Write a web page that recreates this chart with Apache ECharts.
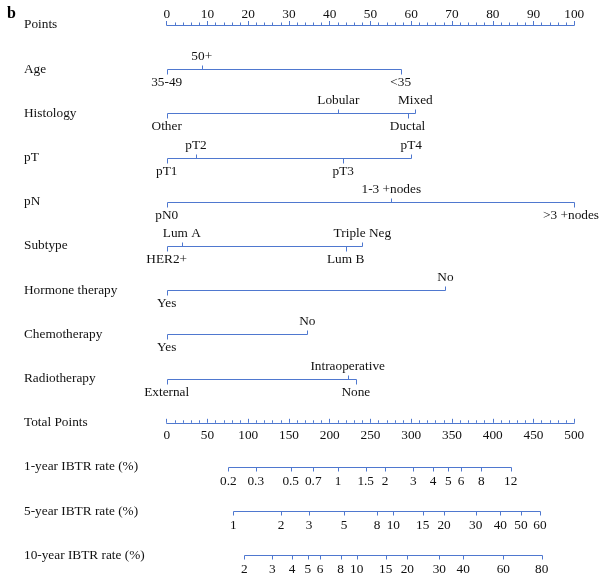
<!DOCTYPE html>
<html>
<head>
<meta charset="utf-8">
<script src="https://cdn.jsdelivr.net/npm/echarts@6/dist/echarts.min.js"></script>
<style>
html,body{margin:0;padding:0;background:#fff;}
#chart{width:600px;height:573px;}
</style>
</head>
<body>
<div id="chart"></div>
<script>
// ---- data ----
const rowNames = ['Points','Age','Histology','pT','pN','Subtype','Hormone therapy','Chemotherapy','Radiotherapy','Total Points','1-year IBTR rate (%)','5-year IBTR rate (%)','10-year IBTR rate (%)'];

const pointsMax = 100, pointsStep = 10;
const totalMax = 500, totalStep = 50;

const ageLevels = ['35-49','50+','<35'];
const agePoints = [0, 8.6, 57.4];
const histLevels = ['Other','Lobular','Ductal','Mixed'];
const histPoints = [0, 42.1, 59.1, 61.0];
const ptLevels = ['pT1','pT2','pT3','pT4'];
const ptPoints = [0, 7.2, 43.3, 60.0];
const pnLevels = ['pN0','1-3 +nodes','>3 +nodes'];
const pnPoints = [0, 55.1, 100];
const subtypeLevels = ['HER2+','Lum A','Lum B','Triple Neg'];
const subtypePoints = [0, 3.7, 43.9, 48.0];
const hormoneLevels = ['Yes','No'];
const hormonePoints = [0, 68.4];
const chemoLevels = ['Yes','No'];
const chemoPoints = [0, 34.5];
const radioLevels = ['External','Intraoperative','None'];
const radioPoints = [0, 44.4, 46.4];

// IBTR rate tick labels and their total-points positions
const ibtr1Labels = ['0.2','0.3','0.5','0.7','1','1.5','2','3','4','5','6','8','12'];
const ibtr1Total  = [75.6,109.2,152.1,179.8,210.1,244.1,267.8,302.5,326.7,345.4,361.0,385.9,422.0];
const ibtr5Labels = ['1','2','3','5','8','10','15','20','30','40','50','60'];
const ibtr5Total  = [81.7,140.2,174.6,217.5,258.0,278.0,314.0,340.2,379.0,409.2,434.6,457.9];
const ibtr10Labels = ['2','3','4','5','6','8','10','15','20','30','40','60','80'];
const ibtr10Total  = [95.2,129.5,153.7,173.0,188.1,213.4,233.1,268.6,295.2,334.4,363.8,412.9,460.0];

// ---- styling ----
const BLUE = '#4f78cf';
const FONT = 'Liberation Serif';
const FS = 13.3;
const TXT = '#111';

const measureCtx = document.createElement('canvas').getContext('2d');
measureCtx.font = FS + 'px "' + FONT + '"';
function textW(s){ return measureCtx.measureText(s).width; }

function crisp(v){ return Math.round(v) + 0.5; }

function varSeries(row, levels, pts){
  const maxP = Math.max.apply(null, pts);
  return {
    type:'custom', xAxisIndex:0, yAxisIndex:0, clip:false, silent:true,
    data: pts.map((p,i)=>[p,row,i]),
    renderItem:function(params, api){
      const i = api.value(2);
      const c = api.coord([api.value(0), api.value(1)]);
      const px = crisp(c[0]), py = crisp(c[1]);
      const children = [];
      if(i === 0){
        const e = api.coord([maxP, row]);
        children.push({type:'line', shape:{x1:px, y1:py, x2:crisp(e[0]), y2:py}, style:{stroke:BLUE, lineWidth:1}});
      }
      const up = (i % 2 === 1);
      children.push({type:'line', shape:{x1:px, y1:py, x2:px, y2: up ? py-4 : py+5}, style:{stroke:BLUE, lineWidth:1}});
      const label = levels[i];
      let lx = c[0];
      const w = textW(label);
      if(lx + w/2 > 599) lx = 599 - w/2;
      children.push({type:'text', x:lx, y: up ? py-13 : py+13,
        style:{text:label, fontFamily:FONT, fontSize:FS, fill:TXT, align:'center', verticalAlign:'middle'}});
      return {type:'group', children:children};
    }
  };
}

function ibtrSeries(row, labels, totals){
  const maxT = totals[totals.length-1];
  return {
    type:'custom', xAxisIndex:2, yAxisIndex:0, clip:false, silent:true,
    data: totals.map((t,i)=>[t,row,i]),
    renderItem:function(params, api){
      const i = api.value(2);
      const c = api.coord([api.value(0), api.value(1)]);
      const px = crisp(c[0]), py = crisp(c[1]);
      const children = [];
      if(i === 0){
        const e = api.coord([maxT, row]);
        children.push({type:'line', shape:{x1:px, y1:py, x2:crisp(e[0]), y2:py}, style:{stroke:BLUE, lineWidth:1}});
      }
      children.push({type:'line', shape:{x1:px, y1:py, x2:px, y2:py+4}, style:{stroke:BLUE, lineWidth:1}});
      children.push({type:'text', x:c[0], y:py+14,
        style:{text:labels[i], fontFamily:FONT, fontSize:FS, fill:TXT, align:'center', verticalAlign:'middle'}});
      return {type:'group', children:children};
    }
  };
}

const chart = echarts.init(document.getElementById('chart'), null, {renderer:'canvas'});
const option = {
  animation:false,
  backgroundColor:'#fff',
  title:{text:'b', left:2, top:1, textStyle:{fontFamily:FONT, fontWeight:'bold', fontSize:16, color:'#000'}},
  grid:[
    {left:166.7, right:25.7, top:25, height:530.4},
    {left:166.7, right:25.7, top:420.8, height:2}
  ],
  xAxis:[
    {gridIndex:0, type:'value', position:'top', min:0, max:pointsMax, interval:pointsStep,
     axisLine:{lineStyle:{color:BLUE, width:1}},
     axisTick:{length:4, lineStyle:{color:BLUE}},
     minorTick:{show:true, splitNumber:5, length:2.5, lineStyle:{color:BLUE}},
     axisLabel:{margin:4, fontFamily:FONT, fontSize:FS, color:TXT},
     splitLine:{show:false}, minorSplitLine:{show:false}},
    {gridIndex:1, type:'value', position:'bottom', min:0, max:totalMax, interval:totalStep,
     axisLine:{lineStyle:{color:BLUE, width:1}},
     axisTick:{inside:true, length:4, lineStyle:{color:BLUE}},
     minorTick:{show:true, splitNumber:5, length:2.5, lineStyle:{color:BLUE}},
     axisLabel:{margin:6, fontFamily:FONT, fontSize:FS, color:TXT},
     splitLine:{show:false}, minorSplitLine:{show:false}},
    {gridIndex:0, type:'value', position:'bottom', min:0, max:totalMax, show:false}
  ],
  yAxis:[
    {gridIndex:0, type:'value', min:0, max:rowNames.length-1, interval:1, inverse:true,
     axisLine:{show:false}, axisTick:{show:false}, splitLine:{show:false},
     axisLabel:{margin:142.7, align:'left', fontFamily:FONT, fontSize:FS, color:TXT,
       formatter:function(v){ return rowNames[v] || ''; }}},
    {gridIndex:1, type:'value', min:0, max:1, show:false}
  ],
  series:[
    varSeries(1, ageLevels, agePoints),
    varSeries(2, histLevels, histPoints),
    varSeries(3, ptLevels, ptPoints),
    varSeries(4, pnLevels, pnPoints),
    varSeries(5, subtypeLevels, subtypePoints),
    varSeries(6, hormoneLevels, hormonePoints),
    varSeries(7, chemoLevels, chemoPoints),
    varSeries(8, radioLevels, radioPoints),
    ibtrSeries(10, ibtr1Labels, ibtr1Total),
    ibtrSeries(11, ibtr5Labels, ibtr5Total),
    ibtrSeries(12, ibtr10Labels, ibtr10Total)
  ]
};
chart.setOption(option);
</script>
</body>
</html>
